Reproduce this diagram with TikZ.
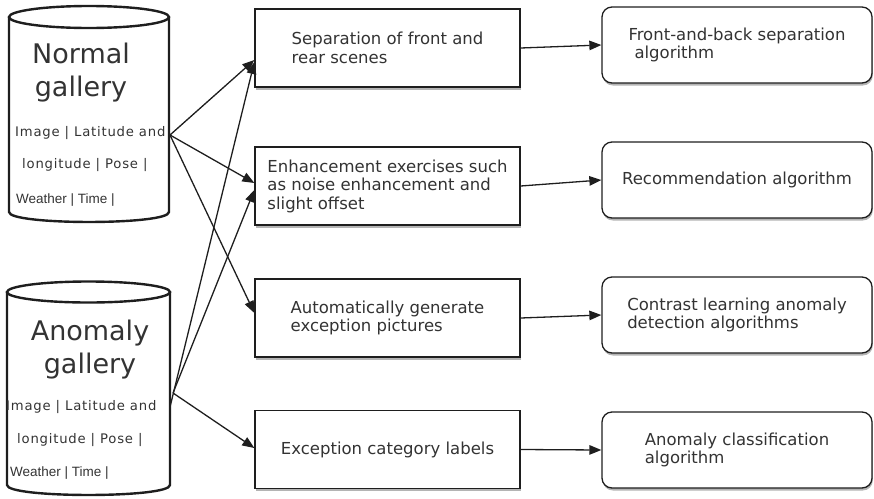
\documentclass[tikz,border=0pt]{standalone}
\usepackage{fontspec}
\setmainfont{DejaVu Sans}
\newfontfamily\narrowsans{Liberation Sans}
\usetikzlibrary{arrows.meta,shadows}

\definecolor{ink}{HTML}{1E1E1E}
\definecolor{txt}{HTML}{333333}
\definecolor{shade}{HTML}{B4B4B4}

\tikzset{
  every node/.style={text=txt, inner sep=0pt},
  dbline/.style={draw=ink, line width=2.4pt},
  title/.style={font=\fontsize{27}{33}\selectfont, align=center},
  field/.style={anchor=west, font=\fontsize{13.2}{15}\selectfont\addfontfeature{LetterSpace=6}},
  fieldn/.style={anchor=west, font=\narrowsans\fontsize{13.5}{15}\selectfont},
  task/.style={draw=ink, line width=1.3pt, minimum width=265pt, minimum height=78pt,
    align=left, font=\fontsize{16.5}{18.5}\selectfont,
    drop shadow={shadow xshift=0.8pt, shadow yshift=-2.5pt, fill=shade, opacity=1}, fill=white},
  algo/.style={draw=ink, line width=1.3pt, rounded corners=10pt, minimum width=270pt, minimum height=76pt,
    align=left, font=\fontsize{16.5}{18.5}\selectfont,
    drop shadow={shadow xshift=0.8pt, shadow yshift=-2.5pt, fill=shade, opacity=1}, fill=white},
  link/.style={draw=ink, line width=1.3pt, -{Triangle[length=12pt,width=9.5pt]}},
}

\begin{document}
\begin{tikzpicture}[x=1pt,y=-1pt]
\useasboundingbox (0,0) rectangle (874,498);

% ---- Normal gallery (cylinder) ----
\draw[dbline] (9,17) -- (9,212) .. controls (9,225.3) and (169,225.3) .. (169,212) -- (169,17);
\draw[dbline, fill=white] (89,17) ellipse [x radius=80, y radius=11];
\node[title] (ntitle) at (81,73) {Normal\\gallery};
\node[field] (nf1) at (15,133) {Image | Latitude and};
\node[field] (nf2) at (22,165) {longitude | Pose |};
\node[fieldn] (nf3) at (16,200) {Weather | Time |};
\coordinate (nsrc) at (170,135);

% ---- Anomaly gallery (cylinder) ----
\draw[dbline] (7,292) -- (7,485) .. controls (7,498.3) and (170,498.3) .. (170,485) -- (170,292);
\draw[dbline, fill=white] (88.5,292) ellipse [x radius=81.5, y radius=10.5];
\node[title] (atitle) at (90,350) {Anomaly\\gallery};
\node[field] (af1) at (6,407) {Image | Latitude and};
\node[field] (af2) at (17,440) {longitude | Pose |};
\node[fieldn] (af3) at (10,473) {Weather | Time |};
\coordinate (asrcA) at (170,407);
\coordinate (asrcB) at (173,393);

% ---- processing steps ----
\node[task] (m1) at (387.5,48)  {Separation of front and\\rear scenes};
\node[task] (m2) at (387.5,186) {Enhancement exercises such\\as noise enhancement and\\slight offset};
\node[task] (m3) at (387.5,318) {Automatically generate\\exception pictures};
\node[task] (m4) at (387.5,449.5) {Exception category labels};

% ---- algorithms ----
\node[algo] (r1) at (737,45)  {Front-and-back separation\\\hspace*{6pt}algorithm};
\node[algo] (r2) at (737,180) {Recommendation algorithm};
\node[algo] (r3) at (737,315) {Contrast learning anomaly\\detection algorithms};
\node[algo] (r4) at (737,450) {Anomaly classification\\algorithm};

% ---- connectors from the galleries ----
\draw[link] (nsrc) -- ([yshift=-12pt]m1.west);
\draw[link] (nsrc) -- ([yshift=3pt]m2.west);
\draw[link] (nsrc) -- ([yshift=5pt]m3.west);
\draw[link] (asrcA) -- ([yshift=-14pt]m1.west);
\draw[link] (asrcB) -- ([yshift=-4pt]m2.west);
\draw[link] (asrcB) -- ([yshift=1.5pt]m4.west);

% ---- connectors to the algorithms ----
\draw[link] (m1.east) -- (r1.west);
\draw[link] (m2.east) -- (r2.west);
\draw[link] (m3.east) -- (r3.west);
\draw[link] (m4.east) -- (r4.west);
\end{tikzpicture}
\end{document}
